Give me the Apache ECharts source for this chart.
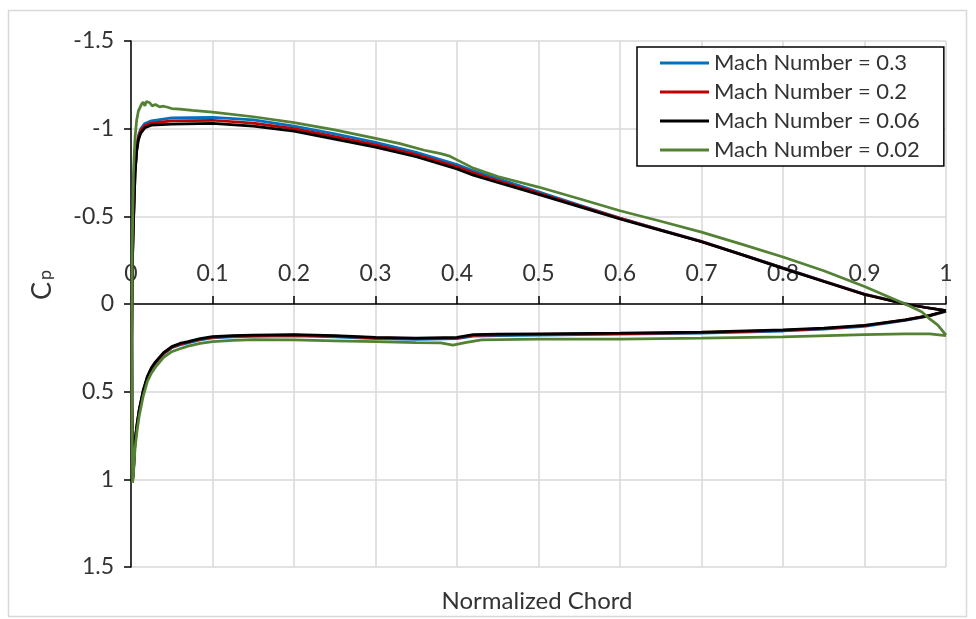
<!DOCTYPE html>
<html>
<head>
<meta charset="utf-8">
<script src="https://cdn.jsdelivr.net/npm/echarts@6/dist/echarts.min.js"></script>
<style>
html,body{margin:0;padding:0;background:#fff;}
#c{width:976px;height:619px;}
</style>
</head>
<body>
<div id="c"></div>
<script>
// ---- data (Cp vs normalized chord) ----
var seriesNames = ['Mach Number = 0.3', 'Mach Number = 0.2', 'Mach Number = 0.06', 'Mach Number = 0.02'];
var xTicks = [0, 0.1, 0.2, 0.3, 0.4, 0.5, 0.6, 0.7, 0.8, 0.9, 1];
var yTicks = [-1.5, -1, -0.5, 0, 0.5, 1, 1.5];

// upper surface, trailing edge -> leading edge
var xUpper = [1.0, 0.975, 0.95, 0.9, 0.85, 0.8, 0.75, 0.7, 0.65, 0.6, 0.55, 0.5, 0.45, 0.42, 0.4, 0.35, 0.3, 0.25, 0.2, 0.15, 0.1, 0.05, 0.025, 0.017, 0.012, 0.009, 0.007, 0.005, 0.003, 0.0015, 0.001, 0.0012, 0.002];
var cpUpperM03 = [0.038, 0.02, -0.002, -0.057, -0.131, -0.206, -0.282, -0.357, -0.423, -0.49, -0.565, -0.64, -0.715, -0.76, -0.795, -0.865, -0.922, -0.97, -1.015, -1.05, -1.065, -1.062, -1.045, -1.03, -1.0, -0.96, -0.89, -0.76, -0.47, -0.2, 0.2, 0.6, 1.0];
var cpUpperM02 = [0.038, 0.02, -0.001, -0.055, -0.13, -0.205, -0.281, -0.356, -0.422, -0.488, -0.56, -0.632, -0.703, -0.748, -0.782, -0.852, -0.908, -0.955, -1.0, -1.032, -1.048, -1.045, -1.032, -1.018, -0.99, -0.95, -0.88, -0.75, -0.465, -0.2, 0.2, 0.6, 1.0];
var cpUpperM006 = [0.038, 0.02, 0.0, -0.054, -0.128, -0.203, -0.28, -0.355, -0.42, -0.485, -0.555, -0.625, -0.693, -0.735, -0.77, -0.84, -0.895, -0.94, -0.986, -1.014, -1.03, -1.026, -1.02, -1.005, -0.975, -0.934, -0.87, -0.745, -0.46, -0.2, 0.2, 0.6, 1.0];

// lower surface, leading edge -> trailing edge
var xLower = [0.002, 0.003, 0.005, 0.0075, 0.01, 0.015, 0.02, 0.025, 0.03, 0.04, 0.05, 0.06, 0.07, 0.085, 0.1, 0.125, 0.15, 0.2, 0.25, 0.3, 0.35, 0.4, 0.42, 0.45, 0.5, 0.6, 0.7, 0.8, 0.85, 0.9, 0.95, 0.98, 1.0];
var cpLowerM03 = [1.01, 0.96, 0.785, 0.69, 0.612, 0.5, 0.422, 0.372, 0.338, 0.285, 0.25, 0.233, 0.222, 0.205, 0.193, 0.187, 0.184, 0.182, 0.187, 0.197, 0.202, 0.198, 0.183, 0.18, 0.177, 0.172, 0.166, 0.154, 0.143, 0.127, 0.094, 0.068, 0.042];
var cpLowerM02 = [1.005, 0.955, 0.78, 0.686, 0.608, 0.496, 0.418, 0.368, 0.334, 0.281, 0.247, 0.229, 0.218, 0.201, 0.19, 0.183, 0.18, 0.178, 0.183, 0.193, 0.198, 0.194, 0.179, 0.176, 0.173, 0.169, 0.163, 0.151, 0.14, 0.124, 0.091, 0.066, 0.04];
var cpLowerM006 = [1.0, 0.95, 0.775, 0.682, 0.604, 0.492, 0.414, 0.364, 0.33, 0.277, 0.243, 0.225, 0.215, 0.197, 0.186, 0.18, 0.177, 0.175, 0.18, 0.19, 0.195, 0.19, 0.175, 0.172, 0.17, 0.166, 0.16, 0.148, 0.137, 0.122, 0.09, 0.065, 0.04];

// Mach 0.02 (noisier near the leading edge)
var xUpperM002 = [1.0, 0.99, 0.98, 0.97, 0.95, 0.9, 0.85, 0.8, 0.75, 0.7, 0.65, 0.6, 0.55, 0.5, 0.45, 0.42, 0.4, 0.39, 0.38, 0.36, 0.33, 0.3, 0.25, 0.2, 0.15, 0.1, 0.075, 0.06, 0.05, 0.045, 0.04, 0.035, 0.03, 0.026, 0.023, 0.021, 0.019, 0.017, 0.015, 0.013, 0.011, 0.009, 0.007, 0.005, 0.003, 0.0015, 0.001, 0.0012, 0.002];
var cpUpperM002 = [0.178, 0.12, 0.085, 0.044, 0.0, -0.1, -0.19, -0.268, -0.34, -0.41, -0.472, -0.532, -0.6, -0.667, -0.727, -0.775, -0.822, -0.845, -0.858, -0.877, -0.915, -0.945, -0.993, -1.035, -1.068, -1.095, -1.104, -1.112, -1.115, -1.122, -1.128, -1.124, -1.138, -1.13, -1.148, -1.138, -1.155, -1.13, -1.152, -1.14, -1.12, -1.1, -1.05, -0.95, -0.75, -0.3, 0.2, 0.6, 1.02];
var xLowerM002 = [0.002, 0.003, 0.005, 0.0075, 0.01, 0.015, 0.02, 0.025, 0.03, 0.04, 0.05, 0.06, 0.07, 0.085, 0.1, 0.125, 0.15, 0.2, 0.25, 0.3, 0.35, 0.38, 0.395, 0.41, 0.43, 0.5, 0.6, 0.7, 0.8, 0.9, 0.95, 0.98, 1.0];
var cpLowerM002 = [1.02, 0.97, 0.82, 0.72, 0.64, 0.525, 0.443, 0.395, 0.36, 0.305, 0.272, 0.255, 0.24, 0.225, 0.215, 0.208, 0.203, 0.205, 0.21, 0.215, 0.22, 0.222, 0.235, 0.22, 0.205, 0.2, 0.2, 0.195, 0.188, 0.175, 0.17, 0.17, 0.18];

var colors = ['#0070C0', '#C00000', '#000000', '#548235'];

function loop(xu, cu, xl, cl) {
  var out = [];
  for (var i = 0; i < xu.length; i++) out.push([xu[i], cu[i]]);
  for (var j = 0; j < xl.length; j++) out.push([xl[j], cl[j]]);
  return out;
}
var seriesData = [
  loop(xUpper, cpUpperM03, xLower, cpLowerM03),
  loop(xUpper, cpUpperM02, xLower, cpLowerM02),
  loop(xUpper, cpUpperM006, xLower, cpLowerM006),
  loop(xUpperM002, cpUpperM002, xLowerM002, cpLowerM002)
];

var FONT = 'Lato';
var TXT = '#333333';
var chart = echarts.init(document.getElementById('c'), null, {renderer: 'canvas'});
var option = {
  animation: false,
  backgroundColor: '#ffffff',
  grid: [
    {left: 131, right: 30, top: 41, bottom: 52, containLabel: false},
    // lower half grid: its top edge sits on Cp = 0 and carries the chord axis labels
    {left: 131, right: 30, top: 304, bottom: 52, containLabel: false}
  ],
  xAxis: [{
    gridIndex: 0, type: 'value', min: xTicks[0], max: xTicks[xTicks.length - 1], interval: 0.1,
    axisLine: {show: false}, axisTick: {show: false}, axisLabel: {show: false},
    splitLine: {show: true, lineStyle: {color: '#d9d9d9', width: 1.5}}
  }, {
    gridIndex: 1, type: 'value', min: xTicks[0], max: xTicks[xTicks.length - 1], interval: 0.1,
    position: 'top',
    axisLine: {show: true, onZero: false, lineStyle: {color: '#000', width: 1.5}},
    axisTick: {show: true, inside: false, length: 8, lineStyle: {color: '#000', width: 1.5}},
    axisLabel: {margin: 19, fontFamily: FONT, fontSize: 23, color: TXT,
      formatter: function (v) { return String(Math.round(v * 10) / 10); }},
    splitLine: {show: false}
  }],
  yAxis: [{
    gridIndex: 0, type: 'value', inverse: true, min: yTicks[0], max: yTicks[yTicks.length - 1], interval: 0.5,
    axisLine: {show: true, onZero: false, lineStyle: {color: '#000', width: 1.5}},
    axisTick: {show: true, inside: false, length: 7, lineStyle: {color: '#000', width: 1.5}},
    axisLabel: {margin: 17, fontFamily: FONT, fontSize: 23, color: TXT},
    splitLine: {show: true, lineStyle: {color: '#d9d9d9', width: 1.5}}
  }, {
    gridIndex: 1, type: 'value', min: 0, max: 1, show: false
  }],
  legend: {
    orient: 'vertical', left: 637, top: 47,
    backgroundColor: '#fff', borderColor: '#000', borderWidth: 1.5,
    padding: [5, 24, 5, 23], itemGap: 7,
    icon: 'rect', itemWidth: 49, itemHeight: 3,
    textStyle: {fontFamily: FONT, fontSize: 22, color: TXT, padding: [0, 0, 0, 0]},
    data: seriesNames
  },
  series: seriesNames.map(function (n, i) {
    return {
      name: n, type: 'line', xAxisIndex: 0, yAxisIndex: 0, data: seriesData[i], showSymbol: false, symbol: 'none',
      lineStyle: {color: colors[i], width: 2.75}, itemStyle: {color: colors[i]},
      z: 2 + i, clip: true
    };
  }),
  graphic: [
    {type: 'rect', shape: {x: 8.5, y: 10.5, width: 958, height: 606}, style: {fill: 'none', stroke: '#d9d9d9', lineWidth: 1.5}, silent: true},
    {type: 'text', x: 537, y: 601, style: {text: 'Normalized Chord', fontFamily: FONT, fontSize: 24, fill: TXT, align: 'center', verticalAlign: 'middle'}},
    {type: 'text', x: 42, y: 291, rotation: Math.PI / 2, style: {text: 'C', fontFamily: FONT, fontSize: 27, fill: TXT, align: 'center', verticalAlign: 'middle'}},
    {type: 'text', x: 45, y: 275, rotation: Math.PI / 2, style: {text: 'p', fontFamily: FONT, fontSize: 18, fill: TXT, align: 'center', verticalAlign: 'middle'}}
  ]
};
chart.setOption(option);
</script>
</body>
</html>
